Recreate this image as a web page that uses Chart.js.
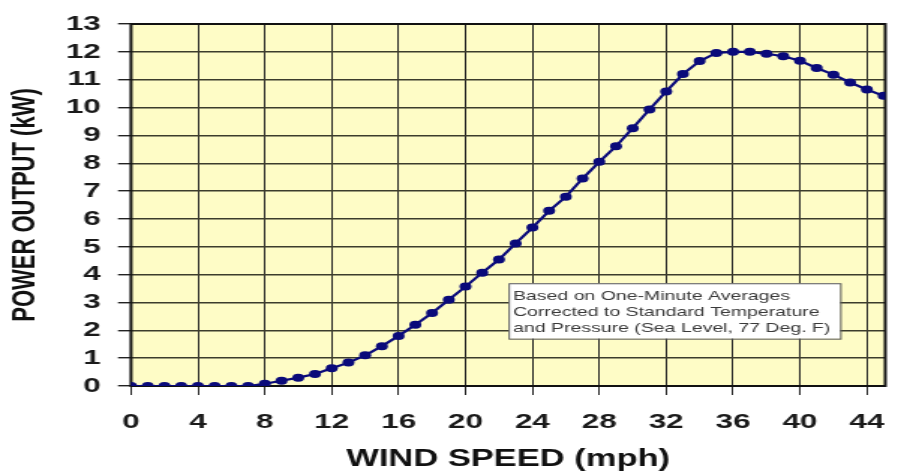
<!DOCTYPE html>
<html>
<head>
<meta charset="utf-8">
<script src="https://cdn.jsdelivr.net/npm/chart.js@4/dist/chart.umd.min.js"></script>
<style>
  html, body { margin: 0; padding: 0; background: #ffffff; }
  #c { display: block; width: 907px !important; height: 475px !important; }
</style>
</head>
<body>
<canvas id="c" width="605" height="475" style="width:907px;height:475px;"></canvas>
<script>
// ---- data ----
const windSpeed = [0,1,2,3,4,5,6,7,8,9,10,11,12,13,14,15,16,17,18,19,20,21,22,23,24,25,26,27,28,29,30,31,32,33,34,35,36,37,38,39,40,41,42,43,44,45];
const powerOutput = [0,0,0,0,0,0,0,0,0.08,0.19,0.3,0.43,0.64,0.84,1.1,1.43,1.8,2.2,2.62,3.1,3.57,4.07,4.54,5.12,5.69,6.29,6.8,7.45,8.05,8.61,9.26,9.93,10.58,11.2,11.67,11.96,12.0,12.0,11.93,11.84,11.68,11.42,11.18,10.9,10.65,10.42];
const xTitle = 'WIND SPEED (mph)';
const yTitle = 'POWER OUTPUT (kW)';
const noteLines = ['Based on One-Minute Averages', 'Corrected to Standard Temperature', 'and Pressure (Sea Level, 77 Deg. F)'];
const noteBox = { x0: 22.57, x1: 42.4, yTop: 3.69, yBottom: 1.7 };

const FONT = '"Liberation Sans", Arial, Helvetica, sans-serif';

const plotDecor = {
  id: 'plotDecor',
  beforeDraw(chart) {
    const a = chart.chartArea, ctx = chart.ctx;
    ctx.save();
    ctx.fillStyle = '#fefcc6';
    ctx.fillRect(a.left, a.top, a.right - a.left, a.bottom - a.top);
    ctx.restore();
  },
  beforeDatasetsDraw(chart) {
    const a = chart.chartArea, ctx = chart.ctx;
    const xs = chart.scales.x, ys = chart.scales.y;
    ctx.save();
    // note box
    const bx0 = xs.getPixelForValue(noteBox.x0), bx1 = xs.getPixelForValue(noteBox.x1);
    const by0 = ys.getPixelForValue(noteBox.yTop), by1 = ys.getPixelForValue(noteBox.yBottom);
    ctx.fillStyle = '#ffffff';
    ctx.fillRect(bx0, by0, bx1 - bx0, by1 - by0);
    ctx.strokeStyle = '#555555';
    ctx.lineWidth = 1;
    ctx.strokeRect(bx0 + 0.5, by0 + 0.5, bx1 - bx0, by1 - by0);
    ctx.fillStyle = '#3a3a3a';
    ctx.font = '13px ' + FONT;
    ctx.textBaseline = 'middle';
    ctx.textAlign = 'left';
    noteLines.forEach((t, i) => ctx.fillText(t, bx0 + 3, by0 + 13 + i * 16));
    // plot border
    ctx.strokeStyle = '#111111';
    ctx.lineWidth = 2;
    ctx.strokeRect(a.left, a.top, a.right - a.left, a.bottom - a.top);
    ctx.restore();
  }
};

new Chart(document.getElementById('c'), {
  type: 'line',
  data: {
    datasets: [{
      data: windSpeed.map((x, i) => ({ x: x, y: powerOutput[i] })),
      borderColor: '#0a0a7a',
      backgroundColor: '#0a0a7a',
      borderWidth: 2.2,
      pointRadius: 4,
      pointBorderWidth: 0,
      pointBackgroundColor: '#0a0a7a',
      tension: 0,
      fill: false
    }]
  },
  options: {
    responsive: false,
    devicePixelRatio: 1,
    animation: false,
    layout: { padding: { left: 0, right: 2.3, top: 20, bottom: 0 } },
    plugins: { legend: { display: false }, tooltip: { enabled: false } },
    scales: {
      x: {
        type: 'linear',
        min: 0,
        max: 45.1,
        afterFit: s => { s.height = 89; },
        ticks: { stepSize: 4, includeBounds: false, autoSkip: false, padding: 15, color: '#1a1a1a', font: { family: FONT, size: 21, weight: 'bold' }, maxRotation: 0 },
        grid: { color: '#222222', lineWidth: 1, tickLength: 9, tickColor: '#222222' },
        border: { display: false },
        title: { display: true, text: xTitle, color: '#111111', font: { family: FONT, size: 23, weight: 'bold' }, padding: { top: 0, bottom: 1.2 } }
      },
      y: {
        min: 0,
        max: 13,
        afterFit: s => { s.width = 87.4; },
        ticks: { stepSize: 1, autoSkip: false, padding: 11.4, color: '#1a1a1a', font: { family: FONT, size: 21, weight: 'bold' } },
        grid: { color: '#3c3c2c', lineWidth: 1.4, tickLength: 8.7, tickColor: '#222222' },
        border: { display: false },
        title: { display: true, text: yTitle, color: '#111111', font: { family: FONT, size: 22, weight: 'bold' }, padding: { top: 3.5, bottom: 0 } }
      }
    }
  },
  plugins: [plotDecor]
});
</script>
</body>
</html>
